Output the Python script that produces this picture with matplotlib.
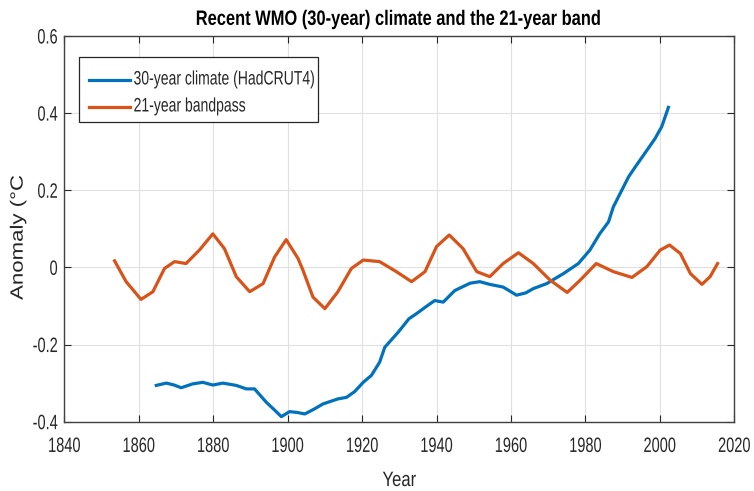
import matplotlib.pyplot as plt
from matplotlib import patheffects
from matplotlib.transforms import Affine2D
from matplotlib.lines import Line2D
from matplotlib.patches import Rectangle

# 30-year climate (HadCRUT4)
climate_years = [
    1864.7, 1867.4, 1869.5, 1871.4, 1874.5, 1877.2, 1879.9, 1882.6, 1886.2,
    1888.9, 1891.1, 1894.3, 1896.5, 1898.3, 1900.5, 1902.5, 1904.6, 1907.0,
    1909.5, 1913.5, 1915.8, 1918.0, 1920.3, 1922.5, 1924.7, 1926.1, 1929.7,
    1932.6, 1934.6, 1937.0, 1939.5, 1941.8, 1944.9, 1949.0, 1951.6, 1954.3,
    1957.9, 1961.5, 1964.0, 1966.0, 1969.6, 1972.0, 1974.1, 1978.1, 1981.2,
    1983.9, 1986.2, 1987.5, 1989.5, 1991.6, 1993.5, 1995.6, 1998.7, 2000.5,
    2002.3,
]
climate_vals = [
    -0.306, -0.300, -0.305, -0.312, -0.302, -0.298, -0.305, -0.300, -0.306,
    -0.315, -0.315, -0.350, -0.370, -0.387, -0.374, -0.376, -0.380, -0.368,
    -0.354, -0.341, -0.337, -0.322, -0.298, -0.280, -0.246, -0.207, -0.168,
    -0.133, -0.120, -0.103, -0.086, -0.090, -0.060, -0.041, -0.037, -0.044,
    -0.051, -0.072, -0.066, -0.055, -0.042, -0.028, -0.016, 0.010, 0.045,
    0.088, 0.118, 0.157, 0.195, 0.235, 0.262, 0.291, 0.334, 0.365,
    0.415,
]

# 21-year bandpass
band_years = [
    1853.5, 1856.6, 1860.6, 1863.8, 1866.9, 1869.6, 1872.7, 1876.3, 1879.9,
    1883.0, 1886.2, 1889.8, 1893.4, 1896.5, 1899.6, 1902.8, 1904.1, 1906.8,
    1910.0, 1913.5, 1917.1, 1920.3, 1924.7, 1929.2, 1933.3, 1936.9, 1940.0,
    1943.4, 1947.1, 1950.8, 1954.3, 1957.9, 1962.0, 1966.0, 1970.5, 1975.1,
    1978.6, 1982.9, 1987.5, 1992.5, 1996.5, 2000.1, 2002.6, 2005.5, 2008.2,
    2011.3, 2013.5, 2015.5,
]
band_vals = [
    0.017, -0.037, -0.083, -0.063, -0.003, 0.015, 0.010, 0.045, 0.087,
    0.049, -0.024, -0.063, -0.042, 0.027, 0.072, 0.023, -0.007, -0.077,
    -0.107, -0.063, -0.003, 0.019, 0.015, -0.011, -0.037, -0.011, 0.054,
    0.084, 0.049, -0.011, -0.024, 0.010, 0.038, 0.010, -0.033, -0.065,
    -0.033, 0.010, -0.011, -0.026, 0.002, 0.045, 0.058, 0.036, -0.016,
    -0.044, -0.024, 0.010,
]

x_ticks = list(range(1840, 2021, 20))
y_ticks = [-0.4, -0.2, 0, 0.2, 0.4, 0.6]
y_tick_labels = ["-0.4", "-0.2", "0", "0.2", "0.4", "0.6"]

BLUE = "#0072BD"
ORANGE = "#D95319"
TEXT = "#262626"


class Squeeze(patheffects.AbstractPathEffect):
    """Squash text horizontally (the reference export is condensed)."""

    def __init__(self, sx=0.75, anchor="center"):
        super().__init__()
        self.sx = sx
        self.anchor = anchor

    def draw_path(self, renderer, gc, tpath, affine, rgbFace=None):
        ext = affine.transform_path(tpath).get_extents()
        if self.anchor == "left":
            cx = ext.x0
        elif self.anchor == "right":
            cx = ext.x1
        else:
            cx = 0.5 * (ext.x0 + ext.x1)
        squash = Affine2D().translate(-cx, 0).scale(self.sx, 1).translate(cx, 0)
        renderer.draw_path(gc, tpath, affine + squash, rgbFace)


plt.rcParams["font.family"] = ["Liberation Sans", "DejaVu Sans"]

fig = plt.figure(figsize=(7.54, 4.91), dpi=100)
ax = fig.add_axes([0.0853, 0.1412, 0.8886, 0.7855])

ax.plot(climate_years, climate_vals, color=BLUE, linewidth=2.3)
ax.plot(band_years, band_vals, color=ORANGE, linewidth=2.3)

ax.set_xlim(1840, 2020)
ax.set_ylim(-0.4, 0.6)
ax.set_xticks(x_ticks)
ax.set_yticks(y_ticks)
ax.set_yticklabels(y_tick_labels)
ax.tick_params(direction="in", top=True, right=True, labelsize=15,
               color=TEXT, labelcolor=TEXT, length=5)
ax.tick_params(axis="x", pad=11)
ax.tick_params(axis="y", pad=4.5)
ax.grid(True, color="#e0e0e0", linewidth=0.8)
for spine in ax.spines.values():
    spine.set_color("#404040")
    spine.set_linewidth(1.0)

for lab in ax.get_xticklabels():
    lab.set_path_effects([Squeeze(0.7)])
for lab in ax.get_yticklabels():
    lab.set_path_effects([Squeeze(0.7, "right")])

title = ax.set_title("Recent WMO (30-year) climate and the 21-year band",
                     fontsize=15, fontweight="bold", pad=8)
title.set_path_effects([Squeeze(0.79)])

xl = ax.set_xlabel("Year", fontsize=15, color=TEXT)
ax.xaxis.set_label_coords(0.5, -0.128)
xl.set_path_effects([Squeeze(0.8)])

yl = ax.set_ylabel("Anomaly (\u00b0C", fontsize=16, color=TEXT)
ax.yaxis.set_label_coords(-0.053, 0.478)
yl.set_path_effects([Squeeze(0.8)])

# legend box drawn by hand so the frame fits the squeezed labels
leg_labels = ["30-year climate (HadCRUT4)", "21-year bandpass"]
leg_colors = [BLUE, ORANGE]
leg_rows = [0.886, 0.816]
ax.add_patch(Rectangle((0.022, 0.777), 0.357, 0.169, transform=ax.transAxes,
                       facecolor="white", edgecolor=TEXT, linewidth=0.9,
                       zorder=5))
for label, color, row in zip(leg_labels, leg_colors, leg_rows):
    ax.add_line(Line2D([0.037, 0.098], [row, row], transform=ax.transAxes,
                       color=color, linewidth=2.3, zorder=6))
    t = ax.text(0.103, row, label, transform=ax.transAxes, fontsize=14,
                color=TEXT, va="center", ha="left", zorder=6)
    t.set_path_effects([Squeeze(0.72, "left")])

fig.savefig("out.png", dpi=100)
